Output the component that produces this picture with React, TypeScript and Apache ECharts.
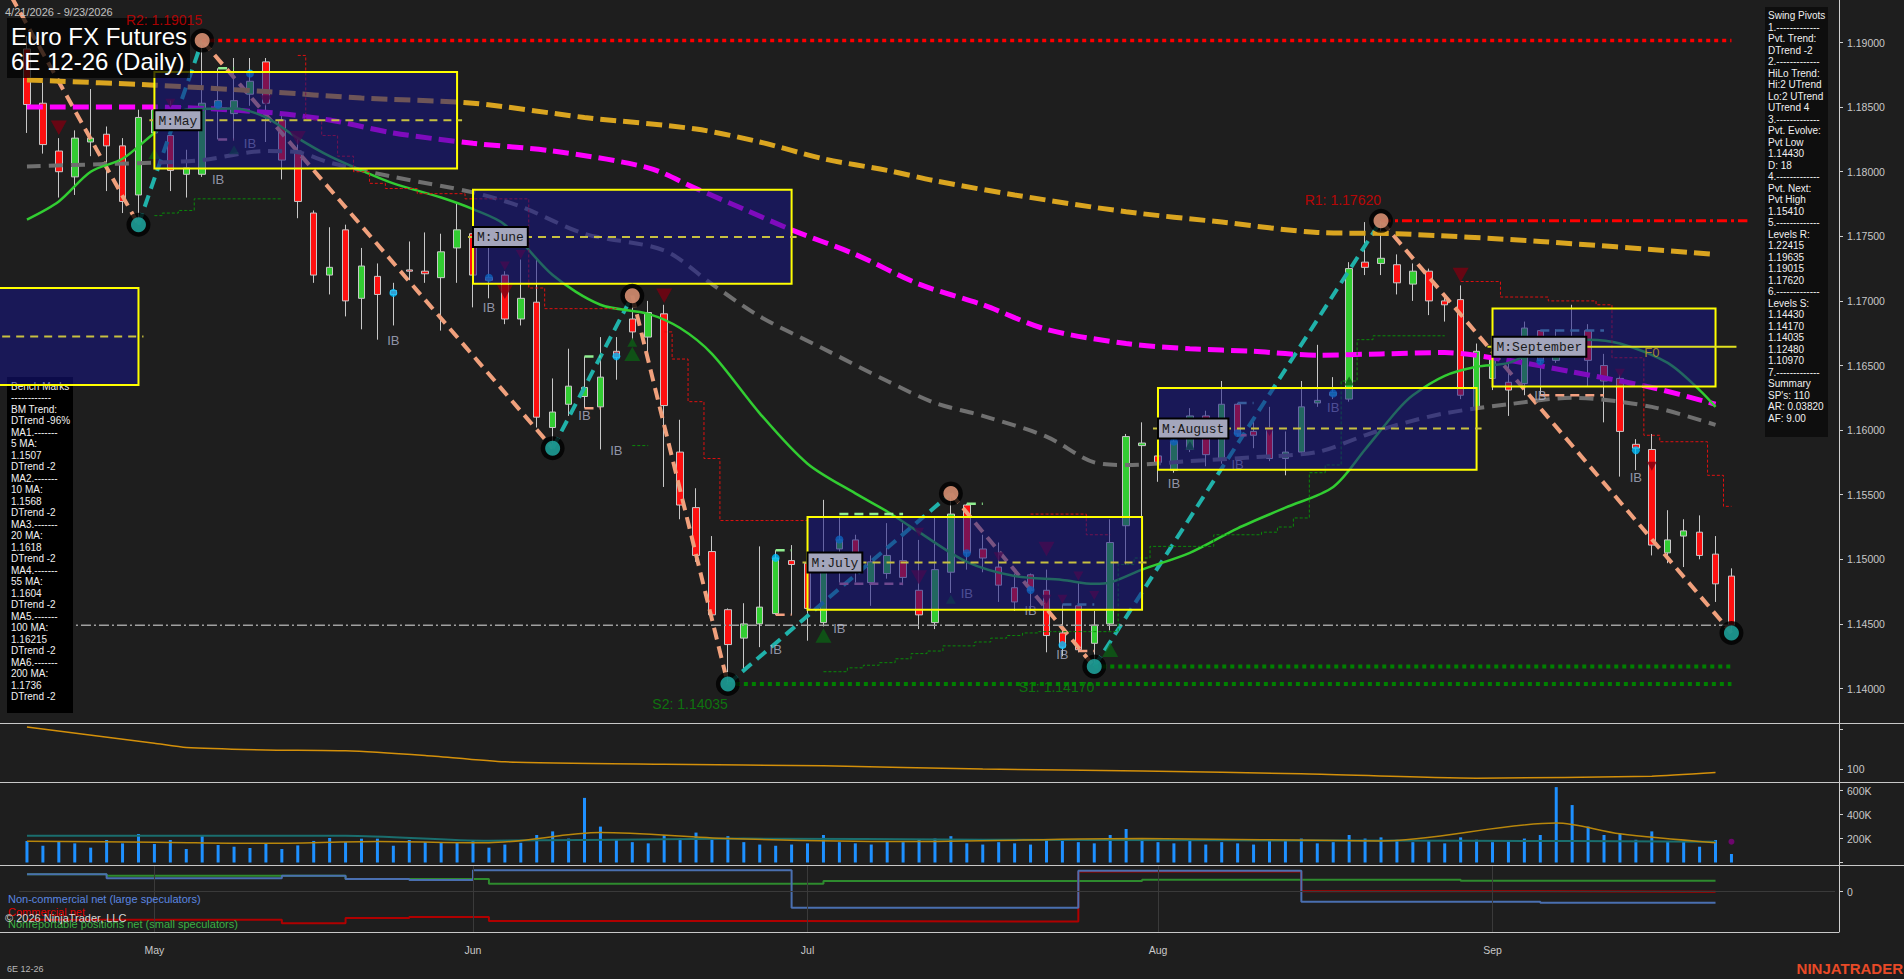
import React, { useEffect, useRef } from "react";
import * as echarts from "echarts";

// ---------------- dates / categories ----------------
const HOLIDAYS = ["2026-05-25", "2026-06-19", "2026-07-03", "2026-09-07"];
function buildDates(): string[] {
  const out: string[] = [];
  const d = new Date(Date.UTC(2026, 3, 21));
  const end = Date.UTC(2026, 8, 23);
  while (d.getTime() <= end) {
    const wd = d.getUTCDay();
    const s = d.toISOString().slice(0, 10);
    if (wd !== 0 && wd !== 6 && HOLIDAYS.indexOf(s) < 0) out.push(s);
    d.setUTCDate(d.getUTCDate() + 1);
  }
  return out;
}
const dates = buildDates();
const PAD = 6;
const categories = [...dates, ...Array.from({ length: PAD }, (_, k) => "pad" + (k + 1))];
const MONTHS = ["Jan", "Feb", "Mar", "Apr", "May", "Jun", "Jul", "Aug", "Sep", "Oct", "Nov", "Dec"];
const monthStarts = dates
  .map((d, i) => (i > 0 && d.slice(5, 7) !== dates[i - 1].slice(5, 7) ? i : -1))
  .filter((i) => i >= 0);
const monthStartSet = new Set(monthStarts);

// ---------------- price data ----------------
const opens = [
  1.1895, 1.1853, 1.1816, 1.1796, 1.1823, 1.1829, 1.182, 1.1782, 1.183, 1.1828,
  1.1798, 1.1798, 1.185, 1.1845, 1.186, 1.1885, 1.184, 1.1816, 1.1768, 1.172,
  1.1755, 1.1702, 1.1719, 1.1708, 1.1724, 1.1723, 1.1718, 1.1741, 1.1752, 1.1718,
  1.172, 1.1686, 1.1699, 1.1602, 1.162, 1.1626, 1.1618, 1.1661, 1.1686, 1.1672,
  1.169, 1.1583, 1.154, 1.1506, 1.1461, 1.1439, 1.145, 1.1458, 1.1499, 1.1497,
  1.1451, 1.1508, 1.1515, 1.1482, 1.1489, 1.1499, 1.1476, 1.1451, 1.149, 1.1542,
  1.1508, 1.1494, 1.1478, 1.1488, 1.1476, 1.1443, 1.1464, 1.1435, 1.145, 1.1526,
  1.1588, 1.158, 1.1569, 1.1585, 1.1611, 1.1577, 1.162, 1.1599, 1.1601, 1.1578,
  1.1583, 1.1621, 1.1627, 1.1624, 1.173, 1.1729, 1.1728, 1.1713, 1.1723, 1.17,
  1.1701, 1.1617, 1.164, 1.1637, 1.1636, 1.1677, 1.1654, 1.1668, 1.1677, 1.165,
  1.164, 1.1589, 1.1585, 1.1505, 1.1518, 1.1521, 1.1504, 1.1487,
];
const highs = [
  1.1905, 1.1869, 1.1826, 1.1832, 1.1864, 1.1835, 1.1826, 1.1848, 1.1858, 1.1855,
  1.1817, 1.19015, 1.188, 1.1888, 1.1888, 1.1888, 1.1844, 1.1826, 1.177, 1.1757,
  1.1759, 1.1741, 1.1729, 1.1714, 1.1746, 1.1753, 1.1752, 1.1775, 1.1753, 1.1741,
  1.1723, 1.1732, 1.1732, 1.164, 1.1663, 1.1657, 1.1672, 1.1672, 1.1704, 1.17,
  1.1697, 1.1608, 1.1555, 1.1518, 1.1462, 1.1466, 1.151, 1.1507, 1.1511, 1.1505,
  1.1546, 1.1532, 1.1519, 1.1503, 1.1528, 1.1528, 1.1515, 1.1533, 1.1551, 1.1543,
  1.1519, 1.1513, 1.1489, 1.1489, 1.1492, 1.1465, 1.1482, 1.146, 1.1531, 1.1597,
  1.1606, 1.1595, 1.1593, 1.1617, 1.1615, 1.1638, 1.1621, 1.1608, 1.1618, 1.1599,
  1.1638, 1.1666, 1.1641, 1.173, 1.1761, 1.1762, 1.1736, 1.1729, 1.1725, 1.1705,
  1.1712, 1.1667, 1.1663, 1.1652, 1.1684, 1.1677, 1.1678, 1.1697, 1.1682, 1.1659,
  1.1643, 1.1593, 1.1597, 1.1538, 1.1531, 1.1534, 1.1518, 1.1493,
];
const lows = [
  1.183, 1.1814, 1.178, 1.1782, 1.1812, 1.1785, 1.1768, 1.1759, 1.182, 1.1785,
  1.178, 1.1796, 1.1825, 1.1825, 1.1851, 1.1823, 1.1794, 1.1764, 1.1714, 1.1705,
  1.1688, 1.1678, 1.167, 1.1681, 1.1716, 1.1714, 1.1677, 1.1714, 1.1695, 1.1702,
  1.1682, 1.1681, 1.1602, 1.1586, 1.1611, 1.1617, 1.1585, 1.1639, 1.167, 1.1661,
  1.1556, 1.1531, 1.1498, 1.1453, 1.14035, 1.1414, 1.1432, 1.1457, 1.1457, 1.1437,
  1.1448, 1.1482, 1.1482, 1.1464, 1.1485, 1.148, 1.1446, 1.1446, 1.1474, 1.1492,
  1.149, 1.1467, 1.146, 1.146, 1.1428, 1.1425, 1.1428, 1.1417, 1.1445, 1.1496,
  1.1533, 1.156, 1.1567, 1.1583, 1.1572, 1.1574, 1.1595, 1.1586, 1.1576, 1.1565,
  1.1581, 1.1618, 1.1624, 1.1622, 1.172, 1.172, 1.1705, 1.17, 1.1689, 1.1684,
  1.1624, 1.1615, 1.1631, 1.1611, 1.1627, 1.1627, 1.1652, 1.1661, 1.1634, 1.1606,
  1.1564, 1.1569, 1.1503, 1.1497, 1.1494, 1.15, 1.1467, 1.1443,
];
const closes = [
  1.1852, 1.1821, 1.18, 1.1826, 1.1826, 1.182, 1.1777, 1.1842, 1.1848, 1.1801,
  1.1803, 1.1853, 1.1855, 1.1855, 1.187, 1.1853, 1.1809, 1.1777, 1.172, 1.1726,
  1.17, 1.1727, 1.1705, 1.1705, 1.1723, 1.1721, 1.1738, 1.1755, 1.172, 1.1716,
  1.1686, 1.1702, 1.161, 1.1614, 1.1634, 1.1633, 1.1641, 1.1656, 1.1676, 1.1691,
  1.1619, 1.1542, 1.1503, 1.1457, 1.1434, 1.145, 1.1463, 1.1501, 1.1496, 1.1462,
  1.1504, 1.1515, 1.1503, 1.1498, 1.1503, 1.1486, 1.1457, 1.1492, 1.1535, 1.1505,
  1.1501, 1.148, 1.1467, 1.1476, 1.1441, 1.1432, 1.143, 1.1449, 1.1513, 1.1595,
  1.159, 1.1575, 1.1591, 1.1611, 1.1581, 1.162, 1.1597, 1.1596, 1.1578, 1.1583,
  1.1618, 1.1623, 1.1629, 1.1725, 1.1726, 1.1733, 1.1714, 1.1723, 1.17, 1.1697,
  1.1627, 1.1661, 1.1655, 1.1631, 1.1679, 1.1654, 1.167, 1.1662, 1.1654, 1.1638,
  1.1599, 1.1586, 1.1511, 1.1515, 1.1522, 1.1503, 1.1481, 1.1449,
];

// moving averages, read at sample bars: [bar, value]
const ma200 = [[0, 1.1871], [8, 1.1867], [15, 1.1862], [21, 1.1857], [28, 1.1853], [35, 1.1842], [42, 1.1833], [46, 1.1823], [50, 1.181], [54, 1.1801], [57, 1.1793], [62, 1.1782], [69, 1.1769], [75, 1.1761], [81, 1.1753], [86, 1.1752], [95, 1.1746], [106, 1.1736]];
const ma100 = [[0, 1.185], [8, 1.185], [15, 1.1846], [19, 1.184], [23, 1.183], [28, 1.1822], [33, 1.1816], [39, 1.1803], [42, 1.1787], [45, 1.1771], [48, 1.1755], [52, 1.1736], [56, 1.1713], [60, 1.1697], [64, 1.1678], [69, 1.1667], [73, 1.1663], [77, 1.1661], [81, 1.1658], [85, 1.1659], [89, 1.166], [93, 1.1654], [97, 1.1645], [102, 1.1633], [106, 1.162]];
const ma55 = [[0, 1.1804], [5, 1.1806], [8, 1.1807], [11, 1.1809], [15, 1.1816], [17, 1.1815], [19, 1.1807], [23, 1.1796], [28, 1.1784], [31, 1.1773], [35, 1.1752], [40, 1.1739], [43, 1.1713], [46, 1.1688], [50, 1.1663], [54, 1.1638], [57, 1.1621], [60, 1.1611], [64, 1.1595], [67, 1.1575], [69, 1.1573], [73, 1.1576], [77, 1.1579], [81, 1.1583], [84, 1.1596], [86, 1.1604], [89, 1.1613], [93, 1.162], [97, 1.1625], [102, 1.1618], [106, 1.1604]];
const ma20 = [[0, 1.1763], [2, 1.1777], [4, 1.18], [6, 1.181], [8, 1.183], [10, 1.1848], [13, 1.1849], [15, 1.1842], [17, 1.1826], [19, 1.1812], [21, 1.1801], [23, 1.1791], [26, 1.178], [28, 1.1771], [30, 1.1759], [33, 1.172], [36, 1.1697], [39, 1.169], [41, 1.1679], [43, 1.1659], [46, 1.1613], [49, 1.1574], [52, 1.1551], [54, 1.1537], [56, 1.1521], [59, 1.1498], [62, 1.1487], [65, 1.1484], [67, 1.1481], [68, 1.1482], [70, 1.1492], [73, 1.1505], [76, 1.1524], [79, 1.154], [82, 1.1556], [84, 1.1585], [86, 1.1615], [87, 1.1627], [89, 1.1642], [91, 1.1649], [93, 1.1652], [95, 1.1663], [98, 1.167], [100, 1.1667], [103, 1.1652], [105, 1.1631], [106, 1.1618]];

// swing pivots (zigzag)
const zigIdx = [-1, 7, 11, 33, 38, 44, 58, 67, 85, 107];
const zigPrice = [1.1936, 1.1759, 1.19015, 1.1586, 1.1704, 1.14035, 1.1551, 1.1417, 1.1762, 1.1443];

// monthly range boxes
const boxStart = [-3, 8, 28, 49, 71, 92];
const boxEnd = [7, 27, 48, 70, 91, 106];
const boxHigh = [1.171, 1.18771, 1.17861, 1.15327, 1.16326, 1.16941];
const boxLow = [1.16349, 1.18025, 1.17133, 1.1461, 1.15693, 1.16337];
const boxMid = [1.16724, 1.18398, 1.17495, 1.14976, 1.16013, 1.16646];
const boxSolidMid = [0, 0, 0, 0, 0, 1];
const boxLabel = ["", "M:May", "M:June", "M:July", "M:August", "M:September"];

// inside-bar range dashes: [fromBar, toBar, price, kind 0=high 1=low 2=teal 3=pink]
const ibSpans = [
  [11.6, 13.4, 1.188, 0], [11.6, 13.4, 1.1825, 3], [13.6, 14.4, 1.1888, 0],
  [22.6, 23.4, 1.1714, 0], [22.6, 23.4, 1.1681, 1], [28.6, 29.4, 1.1702, 1],
  [34.6, 36.4, 1.1657, 0], [34.6, 36.4, 1.1617, 1], [36.6, 37.4, 1.1672, 0], [36.6, 37.4, 1.1639, 1],
  [46.6, 48.4, 1.1507, 0], [46.6, 48.4, 1.1457, 1],
  [50.6, 55.4, 1.1535, 0], [50.6, 55.4, 1.1481, 3], [58.6, 60.4, 1.1543, 0],
  [64.6, 67.4, 1.1465, 2], [65.6, 67.4, 1.1429, 1],
  [75.6, 77.4, 1.1621, 2], [75.6, 77.4, 1.1596, 3], [81.6, 82.4, 1.1641, 0],
  [94.6, 99.4, 1.1677, 2], [94.6, 99.4, 1.1627, 1], [100.6, 101.4, 1.1593, 0], [100.6, 101.4, 1.1569, 1],
];
const ibSpanColors = ["#90ee90", "#f4a080", "#5fb8b8", "#d88898"];

// levels
const levelR2 = 1.19015, levelR1 = 1.1762, levelS1 = 1.1417, levelS2 = 1.14035, lastPrice = 1.1449;

// trailing stop steps [bar, value]
const redStopA = [[17, 1.189], [18, 1.184], [19, 1.1828], [20, 1.1812], [21, 1.18], [22, 1.1791], [23, 1.1787], [24, 1.1787], [25, 1.1783], [26, 1.1783], [27, 1.1783], [28, 1.1779], [29, 1.1779], [30, 1.1779], [31, 1.1779], [32, 1.171], [33, 1.1694], [34, 1.1694], [35, 1.1694], [36, 1.1694], [37, 1.1694]];
const redStopB = [[40, 1.1676], [41, 1.1655], [42, 1.1622], [43, 1.1578], [44, 1.153], [45, 1.153], [46, 1.153], [47, 1.153], [48, 1.153], [49, 1.153]];
const redStopC = [[63, 1.1535], [64, 1.1535], [65, 1.1535], [66, 1.1535], [67, 1.1519], [68, 1.1519]];
const redStopD = [[90, 1.1715], [91, 1.1715], [92, 1.1715], [93, 1.1703], [94, 1.1703], [95, 1.1703], [96, 1.17], [97, 1.17], [98, 1.17], [99, 1.1697], [100, 1.1656], [101, 1.1656], [102, 1.1596], [103, 1.1591], [104, 1.1591], [105, 1.1591], [106, 1.1565], [107, 1.1541]];
const greenStopA = [[8, 1.1766], [9, 1.1768], [10, 1.177], [11, 1.1779], [12, 1.1779], [13, 1.1779], [14, 1.1779], [15, 1.1779], [16, 1.1779]];
const greenStopB = [[38, 1.1588], [39, 1.1588]];
const greenStopC = [[50, 1.1413], [51, 1.1413], [52, 1.1416], [53, 1.1418], [54, 1.142], [55, 1.1423], [56, 1.1427], [57, 1.1429], [58, 1.1433], [59, 1.1433], [60, 1.1436], [61, 1.1439], [62, 1.1441], [63, 1.1443], [64, 1.1444], [65, 1.1444], [66, 1.1444], [67, 1.1444], [68, 1.1444], [69, 1.1496], [70, 1.1501], [71, 1.151], [72, 1.151], [73, 1.151], [74, 1.151], [75, 1.1519], [76, 1.1519], [77, 1.1519], [78, 1.1521], [79, 1.1525], [80, 1.1532], [81, 1.1567], [82, 1.1573], [83, 1.1638], [84, 1.167], [85, 1.1673], [86, 1.1673], [87, 1.1673], [88, 1.1673], [89, 1.1673]];

// markers
const downTri = [[2, 1.1834, 16], [9, 1.1853, 10], [15, 1.1855, 12], [17, 1.1826, 16], [30, 1.1727, 10], [30, 1.1707, 16], [31, 1.1736, 10], [40, 1.1704, 16], [56, 1.1521, 10], [56, 1.1486, 16], [61, 1.1502, 10], [64, 1.1508, 16], [64, 1.1469, 10], [65, 1.1469, 10], [66, 1.1487, 10], [67, 1.1472, 10], [78, 1.1599, 10], [90, 1.172, 16], [100, 1.1644, 10], [102, 1.1572, 10]];
const upTri = [[8, 1.1814, 12], [13, 1.1817, 10], [38, 1.1668, 10], [38, 1.1659, 16], [50, 1.1441, 16], [58, 1.1469, 10], [68, 1.143, 16], [73, 1.1588, 10], [83, 1.1638, 10]];
const cyanDots = [[12, 1.18518], [14, 1.1876], [23, 1.17062], [29, 1.17179], [37, 1.16571], [47, 1.15011], [51, 1.15153], [59, 1.15047], [63, 1.14763], [65, 1.14336], [72, 1.15911], [76, 1.15978], [82, 1.16284], [95, 1.16533], [101, 1.15844]];
const ibLabels = [[14, 1.18217], [12, 1.17943], [23, 1.1669], [29, 1.16948], [35, 1.16113], [37, 1.15846], [47, 1.143], [51, 1.14467], [59, 1.14734], [63, 1.14602], [65, 1.14267], [72, 1.15583], [76, 1.1573], [82, 1.16173], [95, 1.16265], [101, 1.15633]];

// sub panels
const volumeK = [
  180, 140, 180, 160, 124, 188, 160, 238, 155, 188, 113, 222, 146, 132, 121, 160, 113, 143, 180, 205,
  171, 199, 199, 140, 188, 171, 171, 171, 188, 124, 150, 165, 230, 260, 200, 540, 300, 190, 170, 160,
  230, 200, 250, 190, 220, 170, 150, 140, 150, 160, 230, 170, 160, 150, 180, 170, 190, 200, 220, 160,
  150, 170, 160, 150, 190, 180, 170, 160, 230, 280, 200, 170, 160, 180, 150, 170, 160, 150, 190, 180,
  200, 160, 170, 230, 200, 210, 190, 170, 180, 160, 210, 190, 170, 180, 200, 230, 630, 480, 300, 230,
  240, 190, 260, 174, 174, 132, 188, 71,
];
const volTeal = [[0, 224], [20, 224], [29, 182], [45, 200], [60, 190], [75, 185], [90, 182], [106, 174]];
const volGold = [[0, 178], [8, 170], [15, 160], [22, 175], [29, 165], [36, 250], [44, 200], [55, 175], [70, 200], [85, 180], [96, 330], [100, 240], [106, 165]];
const oscLine = [[0, 206], [8, 165], [10, 154], [15, 148], [20, 146], [25, 134], [30, 118], [40, 112], [50, 108], [60, 100], [70, 95], [80, 88], [91, 77], [102, 82], [106, 91]];
const cotNonComm = [[0, 65], [5, 50], [16, 60], [20, 48], [24, 44], [28, 80], [48, -60], [66, 78], [80, -38], [95, -41], [106, -41]];
const cotComm = [[0, -105], [16, -118], [20, -99], [24, -95], [29, -110], [48, -112], [66, 76], [80, 2], [95, 0], [106, 0]];
const cotNonRep = [[0, 65], [5, 60], [20, 48], [29, 30], [50, 40], [70, 45], [90, 41], [106, 41]];

const priceTicks = [1.14, 1.145, 1.15, 1.155, 1.16, 1.165, 1.17, 1.175, 1.18, 1.185, 1.19];

const infoLines = [
  "Swing Pivots", "1.-------------", "Pvt. Trend:", "DTrend -2", "2.-------------", "HiLo Trend:",
  "Hi:2 UTrend", "Lo:2 UTrend", "UTrend 4", "3.-------------", "Pvt. Evolve:", "Pvt Low", "1.14430",
  "D: 18", "4.-------------", "Pvt. Next:", "Pvt High", "1.15410", "5.-------------", "Levels R:",
  "1.22415", "1.19635", "1.19015", "1.17620", "6.-------------", "Levels S:", "1.14430", "1.14170",
  "1.14035", "1.12480", "1.10970", "7.-------------", "Summary", "SP's: 110", "AR: 0.03820", "AF: 9.00",
];
const benchLines = [
  "Bench Marks", "------------", "BM Trend:", "DTrend -96%", "MA1.-------", "5 MA:", "1.1507", "DTrend -2",
  "MA2.-------", "10 MA:", "1.1568", "DTrend -2", "MA3.-------", "20 MA:", "1.1618", "DTrend -2",
  "MA4.-------", "55 MA:", "1.1604", "DTrend -2", "MA5.-------", "100 MA:", "1.16215", "DTrend -2",
  "MA6.-------", "200 MA:", "1.1736", "DTrend -2",
];

const FONT = '"Liberation Sans", Arial, sans-serif';

function buildOption(): any {
  const AX = { fontSize: 10.5, color: "#c8c8c8", fontFamily: FONT };
  const gridBase = { left: 19, width: 1816 };
  const grids = [
    { ...gridBase, top: 0, height: 723 },
    { ...gridBase, top: 723, height: 59 },
    { ...gridBase, top: 782, height: 83 },
    { ...gridBase, top: 865, height: 67 },
  ];
  const xAxes = grids.map((_, gi) => ({
    type: "category",
    gridIndex: gi,
    data: categories,
    boundaryGap: true,
    axisLine: { show: false },
    axisTick:
      gi === 3
        ? { show: true, alignWithLabel: true, length: 5, interval: (i: number) => monthStartSet.has(i), lineStyle: { color: "#c8c8c8" } }
        : { show: false },
    axisLabel:
      gi === 3
        ? {
            show: true,
            interval: (i: number) => monthStartSet.has(i),
            formatter: (v: string) => (v.startsWith("pad") ? "" : MONTHS[+v.slice(5, 7) - 1]),
            margin: 12,
            ...AX,
          }
        : { show: false },
    splitLine: { show: false },
  }));
  const yBase = (gi: number, min: number, max: number, ticks: number[], labels: number[], fmt: (v: number) => string) => ({
    type: "value",
    gridIndex: gi,
    position: "right",
    offset: 4,
    min,
    max,
    scale: true,
    axisLine: { show: true, lineStyle: { color: "#d0d0d0", width: 1 } },
    axisTick: { show: true, length: 4, customValues: ticks, lineStyle: { color: "#d0d0d0" } },
    axisLabel: { show: true, customValues: labels, formatter: fmt, margin: 8, ...AX },
    splitLine: { show: false },
  });
  const yAxes = [
    yBase(0, 1.13733, 1.19329, priceTicks, priceTicks, (v) => v.toFixed(5)),
    yBase(1, 67.3, 215.9, [100, 200], [100], (v) => String(Math.round(v))),
    yBase(2, -20.9, 672.7, [0, 200, 400, 600], [200, 400, 600], (v) => Math.round(v) + "K"),
    yBase(3, -151, 100, [0], [0], (v) => String(Math.round(v))),
  ];

  const lineS = (data: any, color: string, width: number, dash: any, z = 3, extra: any = {}) => ({
    type: "line",
    xAxisIndex: 0,
    yAxisIndex: 0,
    data,
    showSymbol: false,
    symbol: "none",
    silent: true,
    z,
    lineStyle: { color, width, type: dash },
    ...extra,
  });

  const zigLegs = zigIdx.slice(1).map((i, k) => [zigIdx[k], zigPrice[k], i, zigPrice[k + 1], zigPrice[k + 1] > zigPrice[k] ? 1 : 0]);
  const boxes = boxStart.map((s, k) => [s, boxEnd[k], boxHigh[k], boxLow[k], boxMid[k], boxSolidMid[k]]);
  const lastIdx = dates.length - 1;

  const series: any[] = [
    {
      type: "candlestick",
      xAxisIndex: 0,
      yAxisIndex: 0,
      barWidth: 7,
      z: 2,
      data: dates.map((_, i) => [opens[i], closes[i], lows[i], highs[i]]),
      itemStyle: { color: "#32cd32", color0: "#ff1010", borderColor: "#c8c8c8", borderColor0: "#c8c8c8", borderWidth: 1 },
    },
    lineS(ma200, "#daa520", 5, [16, 7], 3, { smooth: 0.3 }),
    lineS(ma100, "#ff00ff", 5, [16, 7], 3, { smooth: 0.3 }),
    lineS(ma55, "#707070", 4, [14, 8], 3, { smooth: 0.3 }),
    lineS(ma20, "#32cd32", 2.5, "solid", 3, { smooth: 0.3 }),
    // trailing stops
    ...[redStopA, redStopB, redStopC, redStopD].map((d) => lineS(d, "#e01010", 1, [3, 2], 3, { step: "middle" })),
    ...[greenStopA, greenStopB, greenStopC].map((d) => lineS(d, "#0a8a0a", 1, [3, 2], 3, { step: "middle" })),
    // levels
    lineS([[0, lastPrice], [lastIdx, lastPrice]], "#a0a0a0", 1.5, [10, 3, 2, 3]),
    lineS([[zigIdx[2], levelR2], [lastIdx, levelR2]], "#ff0000", 3.5, [4, 4]),
    lineS([[zigIdx[8], levelR1], [lastIdx + 0.5, levelR1]], "#ff0000", 3, [10, 4, 3, 4]),
    lineS([[zigIdx[5], levelS2], [lastIdx, levelS2]], "#008000", 4, [4, 4]),
    lineS([[zigIdx[7], levelS1], [lastIdx, levelS1]], "#008000", 4, [4, 4]),
    // inside-bar range dashes
    {
      type: "custom",
      xAxisIndex: 0,
      yAxisIndex: 0,
      z: 4,
      silent: true,
      data: ibSpans,
      encode: { x: [0, 1], y: 2 },
      renderItem: (params: any, api: any) => {
        const a = api.coord([api.value(0), api.value(2)]);
        const b = api.coord([api.value(1), api.value(2)]);
        return {
          type: "line",
          shape: { x1: a[0], y1: a[1], x2: b[0], y2: b[1] },
          style: { stroke: ibSpanColors[api.value(3)], lineWidth: 2.5, lineDash: [9, 6] },
        };
      },
    },
    // zigzag legs
    {
      type: "custom",
      xAxisIndex: 0,
      yAxisIndex: 0,
      z: 3,
      silent: true,
      data: zigLegs,
      encode: { x: [0, 2], y: [1, 3] },
      renderItem: (params: any, api: any) => {
        const a = api.coord([api.value(0), api.value(1)]);
        const b = api.coord([api.value(2), api.value(3)]);
        return {
          type: "line",
          shape: { x1: a[0], y1: a[1], x2: b[0], y2: b[1] },
          style: { stroke: api.value(4) ? "#20b2aa" : "#f0a07c", lineWidth: 4, lineDash: [12, 7] },
        };
      },
    },
    // markers
    {
      type: "scatter",
      xAxisIndex: 0,
      yAxisIndex: 0,
      z: 4,
      silent: true,
      symbol: "triangle",
      symbolRotate: 180,
      data: downTri.map((d) => ({ value: [d[0], d[1]], symbolSize: [d[2], d[2] * 0.9] })),
      itemStyle: { color: "#7a0010" },
    },
    {
      type: "scatter",
      xAxisIndex: 0,
      yAxisIndex: 0,
      z: 4,
      silent: true,
      symbol: "triangle",
      data: upTri.map((d) => ({ value: [d[0], d[1]], symbolSize: [d[2], d[2] * 0.9] })),
      itemStyle: { color: "#0b5e14" },
    },
    {
      type: "scatter",
      xAxisIndex: 0,
      yAxisIndex: 0,
      z: 4,
      silent: true,
      symbolSize: 8,
      data: cyanDots,
      itemStyle: { color: "#00bfff" },
    },
    {
      type: "scatter",
      xAxisIndex: 0,
      yAxisIndex: 0,
      z: 4,
      silent: true,
      symbolSize: 0,
      data: ibLabels,
      label: { show: true, position: "inside", formatter: "IB", color: "#b0b4cc", fontSize: 13, fontFamily: FONT },
    },
    // boxes
    {
      type: "custom",
      xAxisIndex: 0,
      yAxisIndex: 0,
      z: 5,
      silent: true,
      data: boxes,
      encode: { x: [0, 1], y: [2, 3, 4] },
      renderItem: (params: any, api: any) => {
        const k = params.dataIndex;
        const s = api.value(0), e = api.value(1);
        const tl = api.coord([s, api.value(2)]);
        const br = api.coord([e, api.value(3)]);
        const solid = api.value(5) === 1;
        const mEnd = api.coord([solid ? lastIdx + 0.4 : e, api.value(4)]);
        const m = api.coord([s, api.value(4)]);
        const children: any[] = [
          {
            type: "rect",
            shape: { x: tl[0], y: tl[1], width: br[0] - tl[0], height: br[1] - tl[1] },
            style: { fill: "rgba(22,20,135,0.55)", stroke: "#ffff00", lineWidth: 2 },
          },
          {
            type: "line",
            shape: { x1: m[0] - 5, y1: m[1], x2: mEnd[0] + 5, y2: m[1] },
            style: solid ? { stroke: "#e0e020", lineWidth: 2 } : { stroke: "#c8c040", lineWidth: 2, lineDash: [8, 6] },
          },
        ];
        const lab = boxLabel[k];
        if (lab) {
          const w = lab.length * 7.8 + 8;
          children.push({
            type: "rect",
            shape: { x: tl[0], y: m[1] - 10, width: w, height: 20 },
            style: { fill: "#a4a6bc", stroke: "#000000", lineWidth: 2 },
          });
          children.push({
            type: "text",
            x: tl[0] + 4,
            y: m[1] + 1,
            style: { text: lab, fill: "#1a1a1a", font: '13px "Liberation Mono", monospace', textVerticalAlign: "middle", verticalAlign: "middle" },
          });
        }
        return { type: "group", children };
      },
    },
    {
      type: "scatter",
      xAxisIndex: 0,
      yAxisIndex: 0,
      z: 6,
      silent: true,
      symbolSize: 0,
      data: [[102.3, 1.166]],
      label: { show: true, position: "inside", formatter: "F0", color: "#c8a020", fontSize: 13, fontFamily: FONT },
    },
    // pivot circles
    {
      type: "scatter",
      xAxisIndex: 0,
      yAxisIndex: 0,
      z: 6,
      silent: true,
      symbolSize: 24,
      data: zigIdx.slice(1).map((i, k) => [i, zigPrice[k + 1]]),
      itemStyle: { color: "#000000" },
    },
    {
      type: "scatter",
      xAxisIndex: 0,
      yAxisIndex: 0,
      z: 7,
      silent: true,
      symbolSize: 15,
      data: zigIdx.slice(1).map((i, k) => ({
        value: [i, zigPrice[k + 1]],
        itemStyle: { color: zigPrice[k + 1] > zigPrice[k] ? "#f0a080" : "#20b2aa" },
      })),
    },
    // level labels
    {
      type: "scatter",
      xAxisIndex: 0,
      yAxisIndex: 0,
      z: 59,
      silent: true,
      symbolSize: 0,
      data: [
        { value: [zigIdx[2], levelR2], label: { formatter: "R2: 1.19015", position: [0, -21], color: "#d40000" } },
        { value: [zigIdx[8], levelR1], label: { formatter: "R1: 1.17620", position: [0, -21], color: "#e00000" } },
        { value: [zigIdx[5], levelS2], label: { formatter: "S2: 1.14035", position: [0, 20], color: "#0a8a0a" } },
        { value: [zigIdx[7], levelS1], label: { formatter: "S1: 1.14170", position: [0, 20], color: "#0a8a0a" } },
      ],
      label: { show: true, align: "right", verticalAlign: "middle", fontSize: 14, fontFamily: FONT },
    },
    // oscillator panel
    {
      type: "line",
      xAxisIndex: 1,
      yAxisIndex: 1,
      data: oscLine,
      showSymbol: false,
      smooth: 0.2,
      lineStyle: { color: "#d4900a", width: 1.5 },
      silent: true,
    },
    // volume panel
    {
      type: "bar",
      xAxisIndex: 2,
      yAxisIndex: 2,
      data: volumeK,
      barWidth: 3,
      itemStyle: { color: "#1e90ff" },
      silent: true,
    },
    {
      type: "line",
      xAxisIndex: 2,
      yAxisIndex: 2,
      data: volTeal,
      showSymbol: false,
      smooth: 0.3,
      lineStyle: { color: "#1a6e6e", width: 2 },
      silent: true,
    },
    {
      type: "line",
      xAxisIndex: 2,
      yAxisIndex: 2,
      data: volGold,
      showSymbol: false,
      smooth: 0.3,
      lineStyle: { color: "#b8860b", width: 1.5 },
      silent: true,
    },
    {
      type: "scatter",
      xAxisIndex: 2,
      yAxisIndex: 2,
      data: [[lastIdx, volTeal[volTeal.length - 1][1]]],
      symbolSize: 6,
      itemStyle: { color: "#800080" },
      silent: true,
    },
    // COT panel
    {
      type: "line",
      xAxisIndex: 3,
      yAxisIndex: 3,
      data: cotNonRep,
      step: "end",
      showSymbol: false,
      lineStyle: { color: "#2e8b2e", width: 2 },
      silent: true,
      markLine: {
        silent: true,
        symbol: "none",
        label: { show: false },
        lineStyle: { color: "#3a3a3a", width: 1, type: "solid" },
        data: [...monthStarts.map((i) => ({ xAxis: i })), { yAxis: 0 }],
      },
    },
    {
      type: "line",
      xAxisIndex: 3,
      yAxisIndex: 3,
      data: cotComm,
      step: "end",
      showSymbol: false,
      lineStyle: { color: "#b00000", width: 2 },
      silent: true,
    },
    {
      type: "line",
      xAxisIndex: 3,
      yAxisIndex: 3,
      data: cotNonComm,
      step: "end",
      showSymbol: false,
      lineStyle: { color: "#4a6fb0", width: 2 },
      silent: true,
    },
  ];

  const txt = (x: number, y: number, text: string, fill: string, size: number, extra: any = {}) => ({
    type: "text",
    x,
    y,
    z: extra.z != null ? extra.z : 60,
    silent: true,
    style: {
      text,
      fill,
      font: `${extra.bold ? "bold " : ""}${size}px ${FONT}`,
      textVerticalAlign: extra.va || "middle",
      verticalAlign: extra.va || "middle",
      textAlign: extra.align || "left",
      align: extra.align || "left",
      lineHeight: extra.lineHeight,
    },
  });
  const hline = (y: number, x1: number, x2: number) => ({
    type: "line",
    z: 55,
    silent: true,
    shape: { x1, y1: y, x2, y2: y },
    style: { stroke: "#c8c8c8", lineWidth: 1 },
  });

  const graphic = [
    hline(723.5, 0, 1904),
    hline(782.5, 0, 1904),
    hline(865.5, 0, 1904),
    hline(932.5, 0, 1839),
    txt(5, 12, "4/21/2026 - 9/23/2026", "#c0c0c0", 11),
    { type: "rect", z: 58, silent: true, shape: { x: 7, y: 18, width: 183, height: 60 }, style: { fill: "rgba(0,0,0,0.72)" } },
    txt(11, 36, "Euro FX Futures", "#ffffff", 24),
    txt(11, 61, "6E 12-26 (Daily)", "#ffffff", 24),
    { type: "rect", z: 58, silent: true, shape: { x: 1765, y: 7, width: 63, height: 430 }, style: { fill: "#0e0e0e" } },
    txt(1768, 10, infoLines.join("\n"), "#f0f0f0", 10, { va: "top", lineHeight: 11.5 }),
    { type: "rect", z: 4, silent: true, shape: { x: 7, y: 377, width: 66, height: 336 }, style: { fill: "#000000" } },
    txt(11, 380.5, benchLines.join("\n"), "#f0f0f0", 10, { va: "top", lineHeight: 11.5, z: 4 }),
    txt(8, 899, "Non-commercial net (large speculators)", "#5a86e0", 11),
    txt(8, 912, "Commercial net", "#e00000", 11),
    txt(8, 924, "Nonreportable positions net (small speculators)", "#3cb043", 11),
    txt(5, 918, "\u00a9 2026 NinjaTrader, LLC", "#d8d8d8", 11),
    txt(7, 969, "6E 12-26", "#b8b8b8", 9),
    txt(1903, 968, "NINJATRADER", "#e84a27", 15, { bold: true, align: "right" }),
  ];

  return {
    animation: false,
    backgroundColor: "#1e1e1e",
    grid: grids,
    xAxis: xAxes,
    yAxis: yAxes,
    series,
    graphic,
  };
}

export default function App() {
  const ref = useRef<HTMLDivElement>(null);
  useEffect(() => {
    if (!ref.current) return;
    const chart = echarts.init(ref.current, undefined, { renderer: "svg" });
    chart.setOption(buildOption());
    return () => chart.dispose();
  }, []);
  return <div ref={ref} style={{ width: 1904, height: 979, position: "absolute", left: 0, top: 0 }} />;
}
